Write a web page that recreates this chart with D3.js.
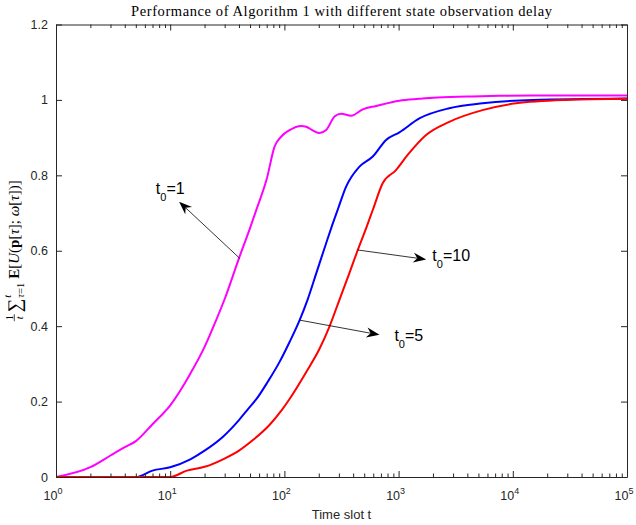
<!DOCTYPE html>
<html><head><meta charset="utf-8">
<script src="https://cdn.jsdelivr.net/npm/d3@7"></script>
<style>body{margin:0;background:#fff}svg{display:block}</style>
</head><body>
<svg id="c" width="636" height="525"></svg>
<script>
const titleText = "Performance of Algorithm 1 with different state observation delay";
const xLabel = "Time slot t";
const yTicks = [0, 0.2, 0.4, 0.6, 0.8, 1, 1.2];
const yTickLabels = ["0", "0.2", "0.4", "0.6", "0.8", "1", "1.2"];
const xTickExps = [0, 1, 2, 3, 4, 5];

const seriesNames = ["t0=1", "t0=5", "t0=10"];
const seriesColors = ["#ff00ff", "#0000ff", "#ff0000"];

// t0 = 1 (magenta)
const t1 = [1,2,3,4,5,7,10,15,20,24,30,40,50,57,70,82,94,111,140,155,180,203,232,275,314,384,486,635,1016,1520,2000,4000,7600,20000,100000];
const y1 = [0,0.026,0.057,0.079,0.095,0.14,0.19,0.274,0.345,0.40,0.472,0.58,0.66,0.71,0.79,0.876,0.903,0.920,0.931,0.929,0.918,0.912,0.920,0.956,0.963,0.958,0.975,0.984,0.998,1.003,1.006,1.009,1.011,1.012,1.012];
// t0 = 5 (blue)
const t2 = [1,5,7,10,15,20,29,40,48,57,72,91,111,136,160,190,232,257,294,347,454,594,777,1016,1520,2780,5430,14900,100000];
const y2 = [0,0,0.017,0.026,0.047,0.070,0.107,0.151,0.180,0.207,0.254,0.306,0.358,0.416,0.471,0.540,0.62,0.66,0.71,0.77,0.823,0.850,0.894,0.914,0.951,0.978,0.991,1.0,1.004];
// t0 = 10 (red)
const t3 = [1,10,14,20,29,40,53,74,94,111,155,203,248,300,370,439,520,594,725,949,1200,1740,2780,5430,10640,29100,100000];
const y3 = [0,0,0.017,0.027,0.047,0.070,0.098,0.138,0.176,0.207,0.278,0.340,0.399,0.466,0.540,0.602,0.66,0.708,0.779,0.814,0.854,0.907,0.942,0.973,0.991,1.0,1.003];

// annotations (data coordinates): arrow from -> to, label at
const annSub = ["0", "0", "0"];
const annRest = ["=1", "=5", "=10"];
const annFrom = [[40.6, 0.58], [136, 0.416], [439, 0.602]];
const annTo = [[11.97, 0.73], [680, 0.377], [1745, 0.577]];
const annAt = [[7.48, 0.751], [919, 0.3615], [1974, 0.574]];

(function () {
const svg = d3.select("#c");
const W = 636, H = 525;
const L = 56, R = 627, T = 24.5, B = 477;
const axisColor = "#262626";
const sans = "'Liberation Sans', Arial, Helvetica, sans-serif";
const serif = "'Liberation Serif', 'Times New Roman', serif";

const x = d3.scaleLog().domain([1, 1e5]).range([L, R]);
const y = d3.scaleLinear().domain([0, 1.2]).range([B, T]);

svg.append("rect").attr("width", W).attr("height", H).attr("fill", "#fff");

// series
const series = [[t1, y1], [t2, y2], [t3, y3]];
const line = d3.line().x(d => x(d[0])).y(d => y(d[1])).curve(d3.curveMonotoneX);
svg.append("clipPath").attr("id", "pc").append("rect")
  .attr("x", L).attr("y", T - 2).attr("width", R - L).attr("height", B - T + 4);
series.forEach((s, i) => {
  const pts = s[0].map((t, k) => [t, s[1][k]]);
  svg.append("path").datum(pts).attr("d", line)
    .attr("fill", "none").attr("stroke", seriesColors[i]).attr("stroke-width", 2)
    .attr("stroke-linejoin", "round").attr("clip-path", "url(#pc)")
    .attr("class", "series").attr("data-name", seriesNames[i]);
});

// axes
const majorT = xTickExps.map(e => Math.pow(10, e));
const minorT = [];
for (let e = 0; e < 5; e++) for (let m = 2; m <= 9; m++) minorT.push(m * Math.pow(10, e));

const gAx = svg.append("g");
const axB = d3.axisBottom(x).tickValues(majorT).tickSizeInner(-6).tickSizeOuter(0).tickFormat("");
const axT = d3.axisTop(x).tickValues(majorT).tickSizeInner(-6).tickSizeOuter(0).tickFormat("");
const axL = d3.axisLeft(y).tickValues(yTicks).tickSizeInner(-6).tickSizeOuter(0).tickFormat("");
const axR = d3.axisRight(y).tickValues(yTicks).tickSizeInner(-6).tickSizeOuter(0).tickFormat("");
gAx.append("g").attr("transform", `translate(0,${B})`).call(axB);
gAx.append("g").attr("transform", `translate(0,${T})`).call(axT);
gAx.append("g").attr("transform", `translate(${L},0)`).call(axL);
gAx.append("g").attr("transform", `translate(${R},0)`).call(axR);
gAx.selectAll("path.domain").attr("stroke", axisColor).attr("stroke-width", 1);
gAx.selectAll(".tick line").attr("stroke", axisColor).attr("stroke-width", 1);

// minor ticks
const minorB = d3.axisBottom(x).tickValues(minorT).tickSizeInner(-3.5).tickSizeOuter(0).tickFormat("");
const minorTp = d3.axisTop(x).tickValues(minorT).tickSizeInner(-3.5).tickSizeOuter(0).tickFormat("");
const mb = gAx.append("g").attr("transform", `translate(0,${B})`).call(minorB);
const mt = gAx.append("g").attr("transform", `translate(0,${T})`).call(minorTp);
[mb, mt].forEach(g => { g.select("path.domain").remove(); g.selectAll(".tick line").attr("stroke", axisColor).attr("stroke-width", 1); });

// x tick labels 10^e
xTickExps.forEach(e => {
  const tx = svg.append("text").attr("x", x(Math.pow(10, e)) - 3).attr("y", 500)
    .attr("text-anchor", "middle").attr("font-family", sans).attr("font-size", 12.5).attr("fill", axisColor);
  tx.append("tspan").text("10");
  tx.append("tspan").attr("font-size", 9).attr("dy", -6).text(String(e));
});

// y tick labels
yTicks.forEach((v, i) => {
  svg.append("text").attr("x", L - 8).attr("y", y(v)).attr("dy", "0.36em")
    .attr("text-anchor", "end").attr("font-family", sans).attr("font-size", 12.5)
    .attr("fill", axisColor).text(yTickLabels[i]);
});

// x label
svg.append("text").attr("x", (L + R) / 2).attr("y", 519).attr("text-anchor", "middle")
  .attr("font-family", sans).attr("font-size", 13).attr("fill", axisColor).text(xLabel);

// title
svg.append("text").attr("x", (L + R) / 2).attr("y", 16).attr("text-anchor", "middle")
  .attr("font-family", serif).attr("font-size", 14.5).attr("fill", "#000")
  .attr("textLength", 421).attr("lengthAdjust", "spacing").text(titleText);

// y label (LaTeX-like)
{
  const g = svg.append("g");
  const inner = g.append("g");
  let cx = 0;
  const fs = 15, sm = 10.5;
  const fw = 7;
  inner.append("text").attr("x", cx + fw / 2).attr("y", -5.5).attr("text-anchor", "middle")
    .attr("font-family", serif).attr("font-size", sm).text("1");
  inner.append("line").attr("x1", cx).attr("x2", cx + fw).attr("y1", -4.2).attr("y2", -4.2)
    .attr("stroke", "#000").attr("stroke-width", 0.7);
  inner.append("text").attr("x", cx + fw / 2).attr("y", 4.8).attr("text-anchor", "middle")
    .attr("font-family", serif).attr("font-style", "italic").attr("font-size", sm).text("t");
  cx += fw + 2;
  const sig = inner.append("text").attr("x", cx).attr("y", 2.5).attr("font-family", serif)
    .attr("font-size", 19).text("\u2211");
  cx += sig.node().getComputedTextLength() + 1;
  const sup = inner.append("text").attr("x", cx).attr("y", -8).attr("font-family", serif)
    .attr("font-style", "italic").attr("font-size", sm).text("t");
  const sub = inner.append("text").attr("x", cx).attr("y", 5.5).attr("font-family", serif)
    .attr("font-size", sm);
  sub.append("tspan").attr("font-style", "italic").text("\u03c4");
  sub.append("tspan").text("=1");
  cx += Math.max(sup.node().getComputedTextLength(), sub.node().getComputedTextLength()) + 4;
  const m = inner.append("text").attr("x", cx).attr("y", 0).attr("font-family", serif).attr("font-size", fs);
  m.append("tspan").attr("font-weight", "bold").text("E");
  m.append("tspan").text("[");
  m.append("tspan").attr("font-style", "italic").text("U");
  m.append("tspan").text("(");
  m.append("tspan").attr("font-weight", "bold").text("p");
  m.append("tspan").text("[");
  m.append("tspan").attr("font-style", "italic").text("\u03c4");
  m.append("tspan").text("]; ");
  m.append("tspan").attr("font-style", "italic").text("\u03c9");
  m.append("tspan").text("[");
  m.append("tspan").attr("font-style", "italic").text("\u03c4");
  m.append("tspan").text("])]");
  cx += m.node().getComputedTextLength();
  inner.attr("transform", `translate(${-cx / 2},0)`);
  g.attr("transform", `translate(18.5,${(T + B) / 2}) rotate(-90)`);
}

// annotations
annFrom.forEach((f, i) => {
  const x0 = x(f[0]), y0 = y(f[1]);
  const x1 = x(annTo[i][0]), y1p = y(annTo[i][1]);
  const ang = Math.atan2(y1p - y0, x1 - x0);
  const hl = 13, hw = 5, ind = 4;
  const cos = Math.cos(ang), sin = Math.sin(ang);
  const bx = x1 - hl * cos, by = y1p - hl * sin;
  svg.append("line").attr("x1", x0).attr("y1", y0).attr("x2", x1 - (hl - ind) * cos).attr("y2", y1p - (hl - ind) * sin)
    .attr("stroke", "#000").attr("stroke-width", 0.8);
  const p = [
    [x1, y1p],
    [bx - hw * sin, by + hw * cos],
    [x1 - (hl - ind) * cos, y1p - (hl - ind) * sin],
    [bx + hw * sin, by - hw * cos]
  ];
  svg.append("path").attr("d", "M" + p.map(q => q.join(",")).join("L") + "Z").attr("fill", "#000");
  const tx = svg.append("text").attr("x", x(annAt[i][0])).attr("y", y(annAt[i][1]))
    .attr("font-family", sans).attr("font-size", 16).attr("fill", "#000");
  tx.append("tspan").text("t");
  tx.append("tspan").attr("font-size", 11).attr("dy", 7.5).text(annSub[i]);
  tx.append("tspan").attr("dy", -7.5).text(annRest[i]);
});
})();
</script>
</body></html>
